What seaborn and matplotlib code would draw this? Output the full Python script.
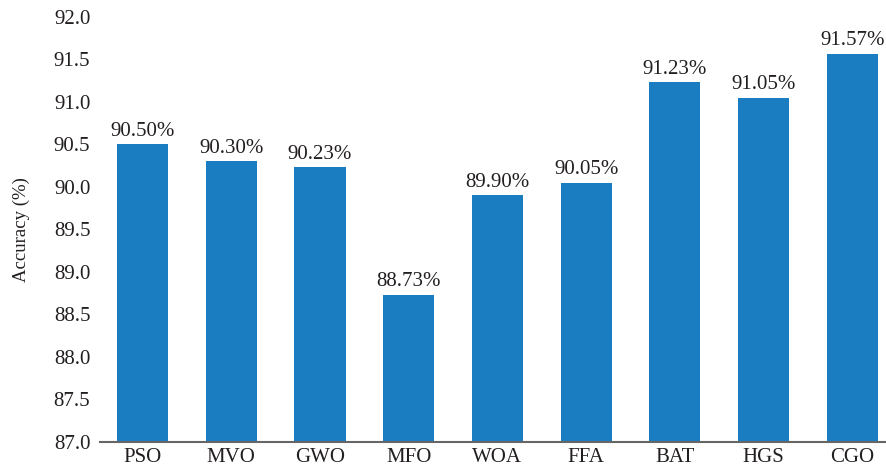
import matplotlib
matplotlib.use("Agg")
import matplotlib.pyplot as plt
import seaborn as sns
import pandas as pd

# Data
algorithms = ["PSO", "MVO", "GWO", "MFO", "WOA", "FFA", "BAT", "HGS", "CGO"]
accuracy = [90.50, 90.30, 90.23, 88.73, 89.90, 90.05, 91.23, 91.05, 91.57]
y_ticks = [87.0, 87.5, 88.0, 88.5, 89.0, 89.5, 90.0, 90.5, 91.0, 91.5, 92.0]

df = pd.DataFrame({"algorithm": algorithms, "accuracy": accuracy})

sns.set_style("white")
plt.rcParams["font.family"] = ["Liberation Serif", "DejaVu Serif"]

fig = plt.figure(figsize=(8.86, 4.72), dpi=100)
ax = fig.add_axes([100 / 886, 30.5 / 472, 786 / 886, 424.5 / 472])

sns.barplot(data=df, x="algorithm", y="accuracy", color="#1a7dc2",
            width=0.575, saturation=1, linewidth=0, ax=ax)

ax.set_ylim(87.0, 92.0)
ax.set_xlim(-0.479, 8.378)
ax.set_yticks(y_ticks)
ax.set_yticklabels([f"{t:.1f}" for t in y_ticks])
ax.tick_params(axis="both", length=0, labelsize=15, colors="#231f20")
ax.tick_params(axis="y", pad=7)
ax.tick_params(axis="x", pad=5)

for s in ["top", "right", "left"]:
    ax.spines[s].set_visible(False)
ax.spines["bottom"].set_color("#666666")
ax.spines["bottom"].set_linewidth(1.5)

ax.set_xlabel("")
ax.set_ylabel("Accuracy (%)", fontsize=13.5, color="#231f20", labelpad=17)

for i, v in enumerate(accuracy):
    ax.text(i, v + 0.04, f"{v:.2f}%", ha="center", va="bottom",
            fontsize=15, color="#231f20")

fig.savefig("out.png", dpi=100)
